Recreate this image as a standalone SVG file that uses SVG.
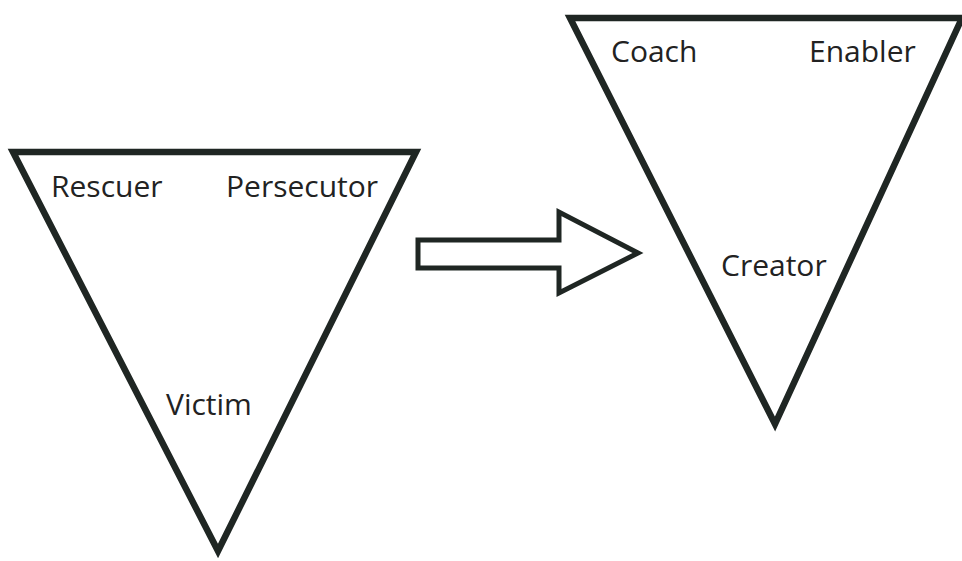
<svg xmlns="http://www.w3.org/2000/svg" width="962" height="561" viewBox="0 0 962 561">
<style>
.tri{fill:none;stroke:#1f2623;stroke-width:6.5;stroke-linejoin:miter;stroke-miterlimit:10}
.arr{fill:none;stroke:#1f2623;stroke-width:5;stroke-linejoin:miter}
text{font-family:"Open Sans","Noto Sans",sans-serif;font-size:30px;fill:#222}
</style>
<rect width="962" height="561" fill="#fff"/>
<g id="drama-triangle">
<polygon class="tri" points="13,152 416,152 218,551"/>
<text x="51" y="197">Rescuer</text>
<text x="226" y="197">Persecutor</text>
<text x="166" y="415">Victim</text>
</g>
<g id="connectors">
<polygon class="arr" points="418,240 559,240 559,212 638,253 559,293 559,268 418,268"/>
</g>
<g id="empowerment-triangle">
<polygon class="tri" points="570,18 962,18 775,424"/>
<text x="611" y="62">Coach</text>
<text x="809" y="62">Enabler</text>
<text x="721" y="276">Creator</text>
</g>
</svg>
